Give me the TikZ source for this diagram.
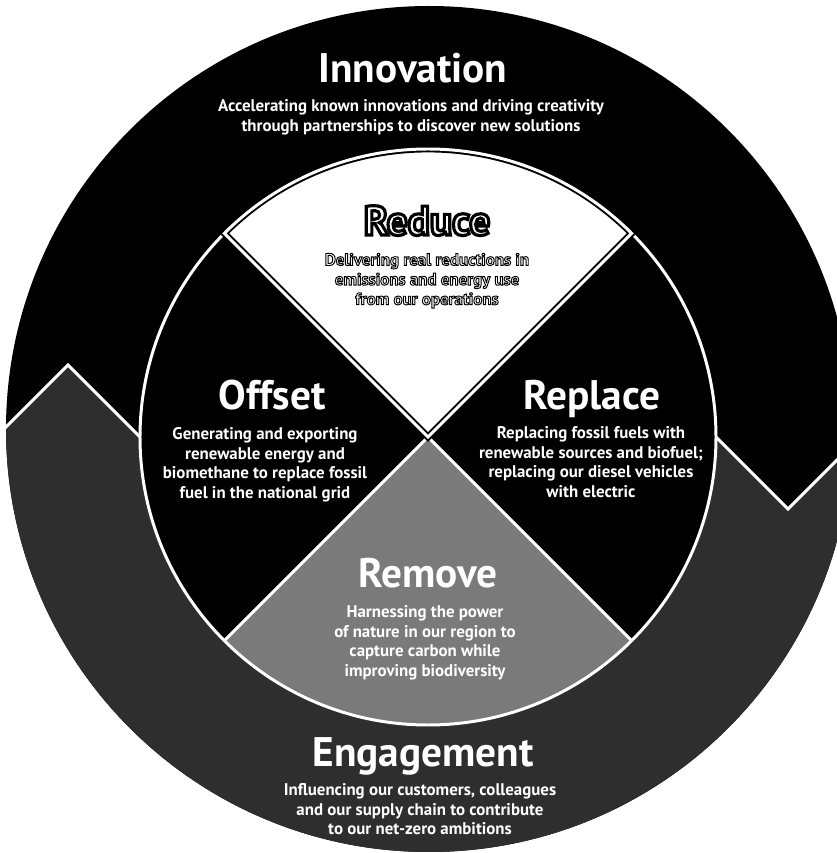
\documentclass[tikz,border=0pt]{standalone}
\usepackage{fontspec}
\setmainfont{PT Sans}
\usepackage{xcolor}
\usepackage{tikz}
\colorlet{engage}{black!82}
\colorlet{removefill}{black!52}
% white letters with a black rim, drawn once (fill and stroke)
\newcommand{\edged}[2][0.55]{\special{pdf:literal 2 Tr #1 w 0 G}#2\special{pdf:literal 0 Tr}}

\begin{document}
\begin{tikzpicture}[x=0.02cm, y=0.02cm,
    title/.style={font=\fontsize{23.5}{27}\selectfont\bfseries, text=white, inner sep=0pt, anchor=base},
    blurb/.style={font=\fontsize{9.6}{11.2}\selectfont\bfseries, text=white, align=center, inner sep=0pt, anchor=north},
    seam/.style={draw=white, line width=1.7pt}]
  \useasboundingbox (0,0) rectangle (837,853);
  \fill[white] (0,0) rectangle (837,853);
  \clip (0,0) rectangle (837,853);
  \coordinate (oc) at (429,424);
  \coordinate (ic) at (428,416);
  % outer ring, Innovation above the zigzag and Engagement below it
  \fill[black] (oc) circle[radius=423];
  \begin{scope}
    \clip (oc) circle[radius=423];
    \fill[engage] (-20,400) -- (68,488) -- (140,416) -- (716,416) -- (788,344) -- (900,456) -- (900,-20) -- (-20,-20) -- cycle;
    \draw[seam] (-20,400) -- (68,488) -- (140,416) (716,416) -- (788,344) -- (900,456);
  \end{scope}
  % inner disc with its four quarters
  \fill[black] (ic) circle[radius=288];
  \fill[removefill] (ic) -- ++(225:288) arc[start angle=225, end angle=315, radius=288] -- cycle;
  \fill[white] (ic) -- ++(45:288) arc[start angle=45, end angle=135, radius=288] -- cycle;
  \draw[seam] (ic) circle[radius=288];
  \draw[seam] (ic) -- ++(45:288) (ic) -- ++(135:288) (ic) -- ++(225:288) (ic) -- ++(315:288);
  \draw[draw=black, line width=1.1pt, double=white, double distance=1.7pt]
    (ic) -- ++(45:288) arc[start angle=45, end angle=135, radius=288] -- cycle;

  \node[title] (innov) at (413,770) {Innovation};
  \node[blurb] (innovTxt) at (411,754) {Accelerating known innovations and driving creativity\\through partnerships to discover new solutions};

  \node[title] (reduce) at (427,618) {\edged[1.8]{Reduce}};
  \node[blurb] (reduceTxt) at (427,600) {\edged{Delivering real reductions in}\\\edged{emissions and energy use}\\\edged{from our operations}};

  \node[title] (offset) at (272,443) {Offset};
  \node[blurb] (offsetTxt) at (265,426) {Generating and exporting\\renewable energy and\\biomethane to replace fossil\\fuel in the national grid};

  \node[title] (replace) at (592,443) {Replace};
  \node[blurb] (replaceTxt) at (591,427) {Replacing fossil fuels with\\renewable sources and biofuel;\\replacing our diesel vehicles\\with electric};

  \node[title] (remove) at (428,265) {Remove};
  \node[blurb] (removeTxt) at (425,248) {Harnessing the power\\of nature in our region to\\capture carbon while\\improving biodiversity};

  \node[title] (engage) at (423,86) {Engagement};
  \node[blurb] (engageTxt) at (420,70) {Influencing our customers, colleagues\\and our supply chain to contribute\\to our net-zero ambitions};
\end{tikzpicture}
\end{document}
